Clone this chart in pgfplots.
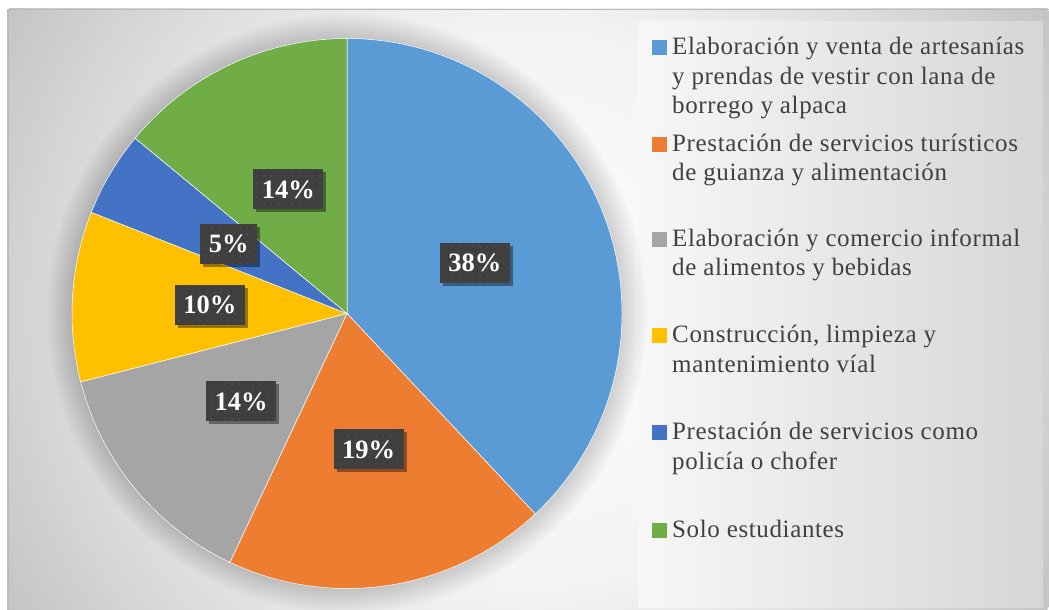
\documentclass[border=0pt]{standalone}
\usepackage{pgfplots}
\pgfplotsset{compat=1.18}
\usepackage{fontspec}
\setmainfont{Liberation Serif}
\newfontfamily\legfont[LetterSpace=2.5]{Liberation Serif}
\usetikzlibrary{shadows,patterns.meta}

\definecolor{c1}{HTML}{5B9BD5}
\definecolor{c2}{HTML}{ED7D31}
\definecolor{c3}{HTML}{A5A5A5}
\definecolor{c4}{HTML}{FFC000}
\definecolor{c5}{HTML}{4472C4}
\definecolor{c6}{HTML}{70AD47}
\definecolor{txt}{HTML}{404040}
\definecolor{boxc}{HTML}{3F3F3F}
\definecolor{dotc}{HTML}{5A5A5A}

\pgfdeclareradialshading{bgshade}{\pgfpointorigin}{%
  color(0bp)=(white); color(12bp)=(white!95!black);
  color(21bp)=(white!83!black); color(25bp)=(white!77!black)}

\tikzdeclarepattern{
  name=sparsedots, type=uncolored,
  bottom left={(0pt,0pt)}, top right={(6.5pt,6.5pt)},
  tile size={(6.5pt,6.5pt)},
  code={\fill (3.25pt,3.25pt) circle (0.8pt);}
}

\tikzset{
  lbl/.style={fill=boxc, text=white, inner xsep=8.5pt, inner ysep=0pt,
    font=\fontsize{26.5}{30}\selectfont\bfseries,
    text height=18pt, text depth=0pt, minimum height=40pt,
    drop shadow={shadow xshift=3pt, shadow yshift=-3pt, opacity=0.4, fill=black},
    postaction={pattern=sparsedots, pattern color=dotc}},
  leg/.style={anchor=base west, inner sep=0pt, text=txt,
    font=\legfont\fontsize{25}{29}\selectfont},
}

% running angles for the slices and their labels (clockwise from the top)
\def\astart{90}
\def\bstart{90}
\newcommand\slice[2]{%
  \pgfmathsetmacro\aend{\astart-3.6*#1}%
  \edef\temp{\noexpand\fill[#2, draw=white, line width=0.5pt] (axis cs:0,0)
    -- (axis cs:{cos(\astart)},{sin(\astart)})
    arc[start angle=\astart, end angle=\aend, radius=275pt] -- cycle;}%
  \temp
  \global\let\astart\aend
}
\newcommand\pielabel[1]{%
  \pgfmathsetmacro\amid{\bstart-1.8*#1}%
  \pgfmathsetmacro\bnext{\bstart-3.6*#1}%
  \edef\temp{\noexpand\node[lbl] at (axis cs:{0.5*cos(\amid)},{0.5*sin(\amid)}) {#1\noexpand\%};}%
  \temp
  \global\let\bstart\bnext
}

\begin{document}
\begin{tikzpicture}[x=1pt, y=1pt]
  \path[use as bounding box] (0,0) rectangle (1049,610);

  % chart area
  \begin{scope}
    \clip (7,0) rectangle (1049,601);
    \shade[shading=bgshade] (528,301) circle (600);
  \end{scope}
  \draw[black!27, line width=1.5pt] (7.75,0) -- (7.75,600.25) -- (1049,600.25);

  % legend area
  \shade[left color=white!97!black, right color=white!84!black] (638,2) rectangle (1043,588);

  % soft shadow round the pie
  \foreach \i in {1,...,14}
    \fill[black, opacity=0.011] (347,296.5) circle ({275+1.8*\i});

  \begin{axis}[
      at={(347pt,296.5pt)}, anchor=center,
      scale only axis, width=550pt, height=550pt,
      xmin=-1, xmax=1, ymin=-1, ymax=1,
      hide axis, clip=false,
    ]
    \foreach \v/\c in {38/c1, 19/c2, 14/c3, 10/c4, 5/c5, 14/c6} {\slice{\v}{\c}}
    \foreach \v in {38, 19, 14, 10, 5, 14} {\pielabel{\v}}
  \end{axis}

  % legend
  \foreach \y/\c in {55/c1, 151.7/c2, 246.7/c3, 343/c4, 440/c5, 538/c6}
    \fill[\c] (652,610-\y) rectangle (667,625-\y);
  \foreach \y/\t in {
      55/{Elaboración y venta de artesanías},
      84.3/{y prendas de vestir con lana de},
      113.6/{borrego y alpaca},
      151.7/{Prestación de servicios turísticos},
      181/{de guianza y alimentación},
      246.7/{Elaboración y comercio informal},
      276/{de alimentos y bebidas},
      343/{Construcción, limpieza y},
      372.3/{mantenimiento víal},
      440/{Prestación de servicios como},
      469.3/{policía o chofer},
      538/{Solo estudiantes}}
    \node[leg] at (672,610-\y) {\t};
\end{tikzpicture}
\end{document}
